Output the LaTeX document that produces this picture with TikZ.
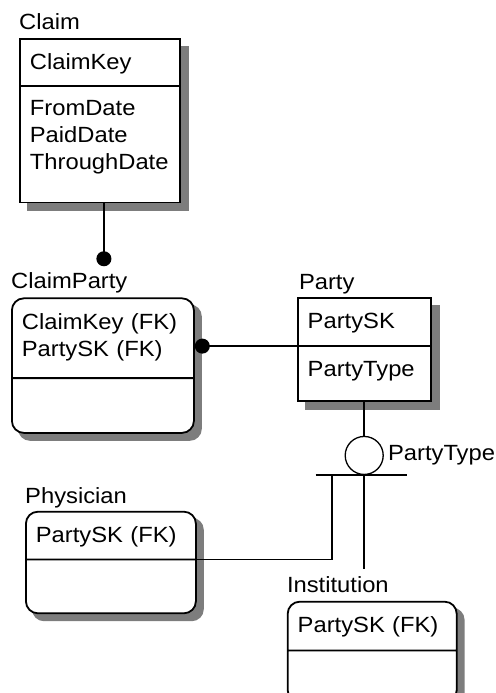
\documentclass[tikz,border=0pt]{standalone}
\usepackage{fontspec}
\setmainfont[FakeStretch=1.08]{Liberation Sans}
\usepackage{tikz}
\usetikzlibrary{shapes.multipart,shapes.geometric,arrows.meta,positioning,backgrounds}
\definecolor{shade}{RGB}{125,125,125}
\tikzstyle{entity} = [rectangle split, rectangle split parts=2, draw=black, line width=1.8pt, fill=white, inner xsep=0pt, inner ysep=0pt, font=\fontsize{22}{27}\selectfont]
\tikzstyle{depentity} = [entity, rounded corners=12pt]
\tikzstyle{eshadow} = [fill=shade, draw=none]
\tikzstyle{ename} = [inner sep=0pt, font=\fontsize{22}{27}\selectfont]
\tikzstyle{subtype} = [circle, draw=black, line width=1.3pt, minimum size=38pt, inner sep=0pt]
\tikzstyle{rel} = [line width=1.8pt, -{Circle[length=15pt]}]
\tikzstyle{sub} = [line width=1.8pt]
\newcommand{\attrs}[2]{\vbox to #1{\vskip14pt #2\vfill}}
\newcommand{\attr}[1]{\hbox{\hskip10pt #1}}

\begin{document}
\begin{tikzpicture}[x=1pt, y=-1pt]
\useasboundingbox (0,0) rectangle (495,693);
\node (claim) [entity, text width=160pt, anchor=north west] at (19,38) {\attrs{45pt}{\attr{ClaimKey}}
	\nodepart{two}\attrs{115pt}{\attr{FromDate}\attr{PaidDate}\attr{ThroughDate}}};
\node (claimparty) [depentity, text width=182pt, below right=94pt and -8pt of claim.south west] {\attrs{78pt}{\attr{ClaimKey (FK)}\attr{PartySK (FK)}}
	\nodepart{two}\attrs{53pt}{}};
\node (party) [entity, text width=133pt, right=102pt of claimparty.north east, anchor=north west] {\attrs{46pt}{\attr{PartySK}}
	\nodepart{two}\attrs{53pt}{\attr{PartyType}}};
\node (physician) [depentity, text width=170pt, below right=77pt and 14pt of claimparty.south west] {\attrs{46pt}{\attr{PartySK (FK)}}
	\nodepart{two}\attrs{52pt}{}};
\node (institution) [depentity, text width=169pt, below right=199pt and -10pt of party.south west] {\attrs{47pt}{\attr{PartySK (FK)}}
	\nodepart{two}\attrs{50pt}{}};
% shadows
\begin{scope}[on background layer]
\foreach \e in {claim, party}
	\fill[eshadow] ([shift={(8pt,-8pt)}]\e.north west) rectangle ([shift={(8pt,-8pt)}]\e.south east);
\foreach \e in {claimparty, physician, institution}
	\fill[eshadow, rounded corners=12pt] ([shift={(7pt,-7pt)}]\e.north west) rectangle ([shift={(7pt,-7pt)}]\e.south east);
\end{scope}
% entity names
\node (claimname) [ename, above right=8pt and 0pt of claim.north west, anchor=base west] {Claim};
\node (cpname) [ename, above right=9pt and 0pt of claimparty.north west, anchor=base west] {ClaimParty};
\node (partyname) [ename, above right=8pt and 2pt of party.north west, anchor=base west] {Party};
\node (physname) [ename, above right=7pt and 0pt of physician.north west, anchor=base west] {Physician};
\node (instname) [ename, above right=8pt and 0pt of institution.north west, anchor=base west] {Institution};
% subtype
\node (ptype) [subtype, below=34pt of party.south] {};
\node (ptypename) [ename, right=4pt of ptype] {PartyType};
\draw[rel, shorten >=6pt] ([xshift=4pt]claim.south) -- ([xshift=4pt]claim.south |- cpname.north);
\draw[rel] (party.one split west) -- (party.one split west -| claimparty.east);
\draw[sub] (party.south) -- (ptype.north);
\draw[sub] ([xshift=-48.5pt]ptype.south) -- ([xshift=42.5pt]ptype.south);
\draw[sub] ([xshift=-32.5pt]ptype.south) |- (physician.one split east);
\draw[sub, shorten >=8pt] (ptype.south) -- (ptype.south |- instname.north);
\end{tikzpicture}
\end{document}
